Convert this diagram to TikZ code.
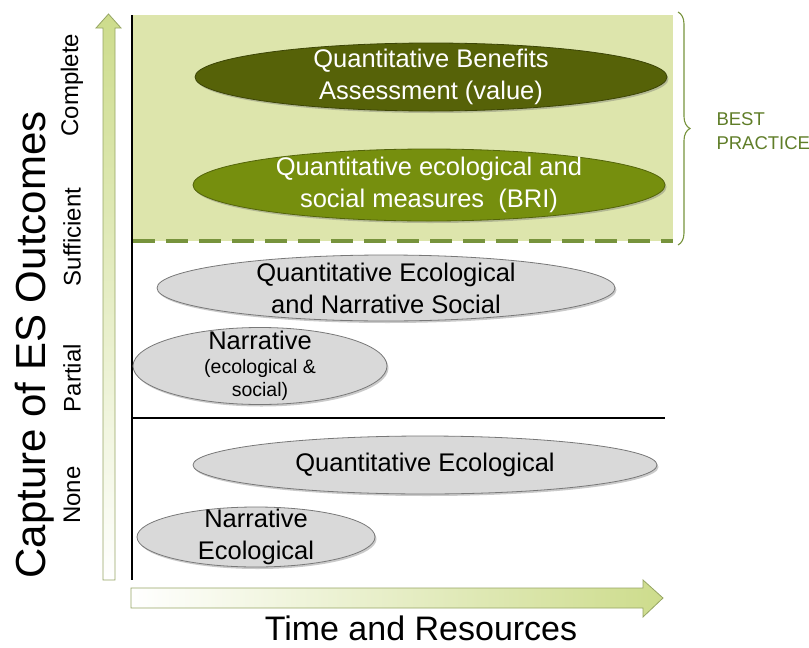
\documentclass[tikz,border=0pt]{standalone}
\usepackage{fontspec}
\setmainfont{Liberation Sans}
\usetikzlibrary{shapes.geometric,shadows,decorations.pathreplacing}
\definecolor{boxfill}{RGB}{221,229,172}
\definecolor{dashgreen}{RGB}{119,147,60}
\definecolor{darkolive}{RGB}{86,98,8}
\definecolor{olive}{RGB}{118,143,14}
\definecolor{grayfill}{RGB}{217,217,217}
\definecolor{grayline}{RGB}{120,120,120}
\definecolor{arrowgreen}{RGB}{205,220,140}
\definecolor{arrowline}{RGB}{150,165,100}
\definecolor{bpgreen}{RGB}{95,125,40}
\tikzset{
  oval/.style={ellipse, inner sep=0pt, line width=0.8pt,
    drop shadow={shadow xshift=1.5pt, shadow yshift=-2pt, opacity=0.35, fill=black!60}},
  grayoval/.style={oval, fill=grayfill, draw=grayline},
  darkoval/.style={oval, fill=darkolive, draw=darkolive!70!black},
  greenoval/.style={oval, fill=olive, draw=olive!70!black},
  bigtxt/.style={align=center, inner sep=0pt, font=\fontsize{25.5}{32}\selectfont},
  smalltxt/.style={align=center, inner sep=0pt, font=\fontsize{19.5}{23}\selectfont},
  lvl/.style={rotate=90, font=\fontsize{24}{28}\selectfont},
  axisline/.style={line width=2.5pt, black},
}
\begin{document}
\begin{tikzpicture}[x=1pt,y=-1pt]
\useasboundingbox (0,0) rectangle (809,648);
% best practice box
\fill[boxfill] (133,15) rectangle (673,241);
\draw[dashgreen, line width=3.5pt, dash pattern=on 22pt off 11pt] (133,241) -- (673,241);
% brace
\coordinate (bt) at (678,12);
\coordinate (bb) at (678,245);
\draw[dashgreen, line width=1.1pt, decorate, decoration={brace, amplitude=12pt}] (bt) -- (bb);
\node[anchor=west, align=left, text=bpgreen, font=\fontsize{18.5}{24}\selectfont] (bp) at (713,131) {BEST\\PRACTICE};
% axes
\draw[axisline] (132,15) -- (132,580);
\draw[axisline] (132,418) -- (665,418);
% vertical arrow
\shade[bottom color=white, top color=arrowgreen, draw=arrowline, line width=0.8pt]
  (103,580) -- (103,28) -- (96,28) -- (108.5,14) -- (121,28) -- (115,28) -- (115,580) -- cycle;
% horizontal arrow
\shade[left color=white, right color=arrowgreen, draw=arrowline, line width=0.8pt]
  (131,588) -- (643,588) -- (643,580) -- (663,598) -- (643,617) -- (643,608) -- (131,608) -- cycle;
% ovals
\node[darkoval, minimum width=472pt, minimum height=68pt] (e1) at (431,77) {};
\node[bigtxt, text=white] (t1) at (e1) {Quantitative Benefits\\Assessment (value)};
\node[greenoval, minimum width=472pt, minimum height=72pt] (e2) at (429,185) {};
\node[bigtxt, text=white] (t2) at (e2) {Quantitative ecological and\\social measures\ \ (BRI)};
\node[grayoval, minimum width=458pt, minimum height=66pt] (e3) at (386,288) {};
\node[bigtxt] (t3) at (e3) {Quantitative Ecological\\and Narrative Social};
\node[grayoval, minimum width=254pt, minimum height=77pt] (e4) at (260,366) {};
\node[smalltxt] (t4) at (e4) {{\fontsize{25.5}{26}\selectfont Narrative}\\[1pt](ecological \&\\social)};
\node[grayoval, minimum width=464pt, minimum height=58pt] (e5) at (425,465) {};
\node[bigtxt] (t5) at (e5) {Quantitative Ecological};
\node[grayoval, minimum width=238pt, minimum height=60pt] (e6) at (256,537) {};
\node[bigtxt] (t6) at (e6) {Narrative\\Ecological};
% labels
\node[rotate=90, font=\fontsize{42}{48}\selectfont] (yl) at (35,345) {Capture of ES Outcomes};
\node[lvl] (l1) at (72,85) {Complete};
\node[lvl] (l2) at (72,237) {Sufficient};
\node[lvl] (l3) at (72,378) {Partial};
\node[lvl] (l4) at (72,495) {None};
\node[anchor=base, font=\fontsize{34}{40}\selectfont] (xl) at (421,640) {Time and Resources};
\end{tikzpicture}
\end{document}
